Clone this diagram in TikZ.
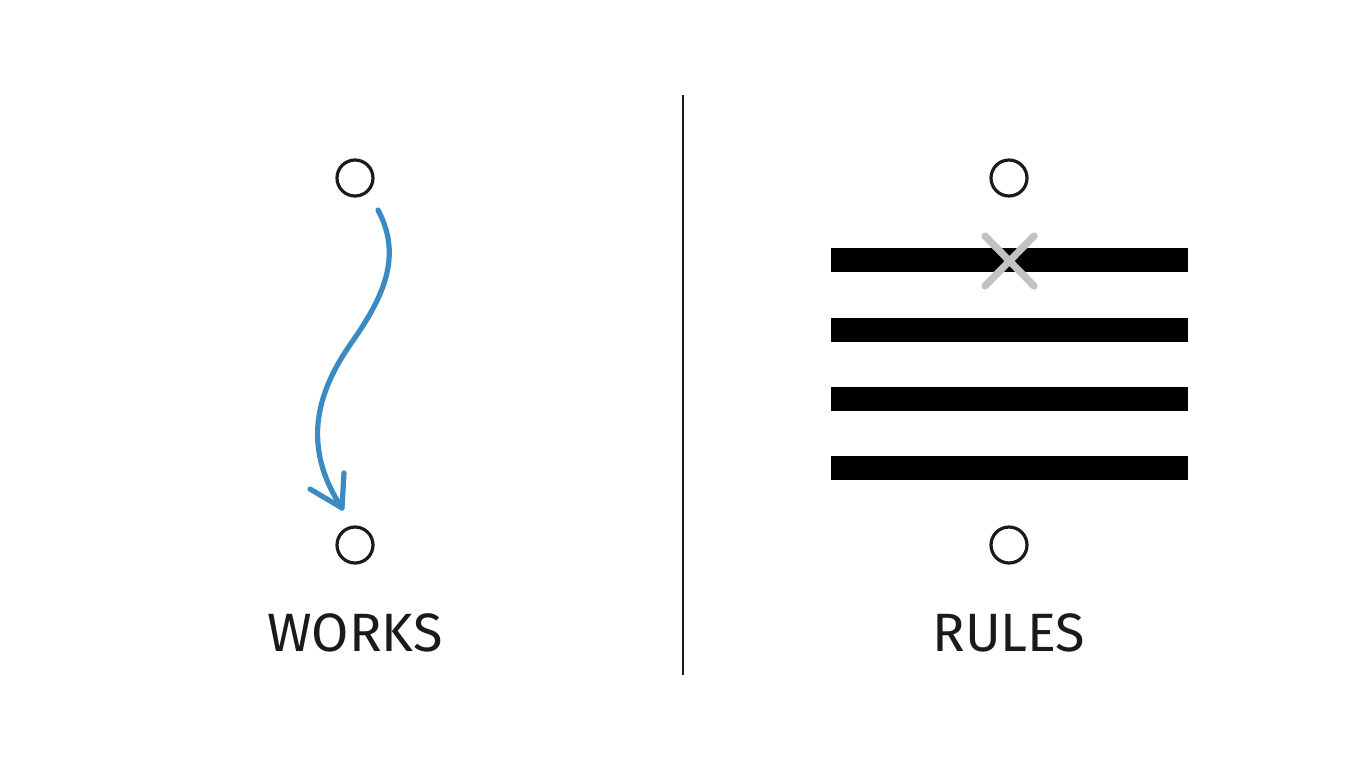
\documentclass[tikz,border=0pt]{standalone}
\usepackage{fontspec}
\setmainfont{Fira Sans}
\usetikzlibrary{arrows.meta}
\definecolor{arrowblue}{HTML}{3A8AC4}
\definecolor{xgray}{HTML}{C2C2C2}
\definecolor{ink}{HTML}{1A1A1A}
\begin{document}
\begin{tikzpicture}[x=0.5pt,y=-0.5pt,
  dot/.style={circle,draw=ink,line width=1.6pt,minimum size=18pt,inner sep=0pt},
  bar/.style={fill=black,draw=none},
  label/.style={font=\fontsize{27}{30}\selectfont,text=ink,inner sep=0pt},
  flow/.style={draw=arrowblue,line width=2.6pt,line cap=round,line join=round},
  cross/.style={draw=xgray,line width=3.6pt,line cap=round}]
\useasboundingbox (0,0) rectangle (1365,768);
\fill[white] (0,0) rectangle (1365,768);
% divider
\draw[ink,line width=1.3pt] (683,95) -- (683,675);
% left side
\node[dot] (lt) at (355,178) {};
\node[dot] (lb) at (355,545) {};
\coordinate (as) at (378,210);
\coordinate (ae) at (342,508);
\coordinate (w1) at (310,489);
\coordinate (w2) at (344,473);
\draw[flow] (as) .. controls (402,255) and (385,295) .. (352,342) .. controls (318,390) and (300,445) .. (ae);
\draw[flow] (w1) -- (ae) -- (w2);
\node[label] (works) at (355,633) {WORKS};
% right side
\node[dot] (rt) at (1009,178) {};
\node[dot] (rb) at (1009,545) {};
\foreach \y/\n in {260/b1,330/b2,399/b3,468/b4}{
  \fill[bar] (831,\y-12) rectangle (1188,\y+12);
}
\coordinate (xa) at (985,236);
\coordinate (xb) at (1034,286);
\coordinate (xc) at (1034,236);
\coordinate (xd) at (985,286);
\draw[cross] (xa) -- (xb);
\draw[cross] (xc) -- (xd);
\node[label] (rules) at (1009,633) {RULES};
\end{tikzpicture}
\end{document}
